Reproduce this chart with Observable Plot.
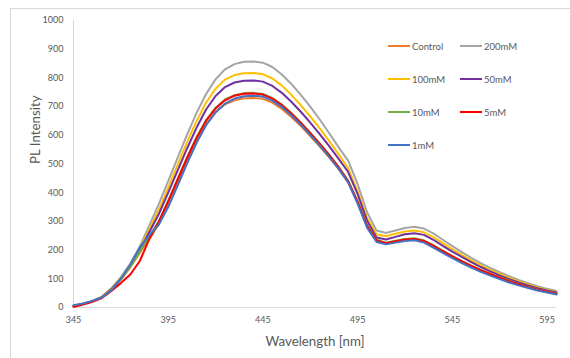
<!DOCTYPE html>
<html>
<head>
<meta charset="utf-8">
<script src="https://cdn.jsdelivr.net/npm/d3@7"></script>
<script src="https://cdn.jsdelivr.net/npm/@observablehq/plot@0.6"></script>
<style>
  html, body { margin: 0; padding: 0; background: #fff; overflow: hidden; }
  #wrap { position: relative; width: 570px; height: 358px; font-family: Lato, "Open Sans", sans-serif; }
  #border { position: absolute; left: 10px; top: 8px; width: 700px; height: 500px; border: 1px solid #d9d9d9; }
  #chart { position: absolute; left: 0; top: 0; }
  #legend { position: absolute; left: 0; top: 0; width: 570px; height: 358px; pointer-events: none; }
  .item { position: absolute; display: flex; align-items: center; font-size: 9.5px; color: #595959; }
  .item .sw { width: 22px; height: 2px; margin-right: 2px; }
</style>
</head>
<body>
<div id="wrap">
  <div id="border"></div>
  <div id="chart"></div>
  <div id="legend"></div>
</div>
<script>
const wavelengths = [345,350,355,360,365,370,375,380,385,390,395,400,405,410,415,420,425,430,435,440,445,450,455,460,465,470,475,480,485,490,495,500,505,510,515,520,525,530,535,540,545,550,555,560,565,570,575,580,585,590,595,600];

const control = [5,12,22,36,62,97,140,190,240,290,360,435,510,580,638,680,708,722,729,730,727,714,692,664,632,597,561,523,482,436,365,282,232,222,229,235,237,230,214,195,177,160,144,129,116,103,91,81,71,62,55,48];
const mM200 = [6,13,23,38,67,106,153,212,285,360,440,522,603,678,744,795,830,848,856,857,853,838,812,779,741,700,655,607,558,512,430,332,268,260,268,277,281,275,258,236,214,193,173,155,138,123,109,96,85,74,65,58];
const mM100 = [5,12,22,37,65,102,148,205,272,340,418,498,577,650,714,762,794,810,816,817,813,798,773,741,705,666,624,580,534,485,405,312,254,248,257,265,268,262,245,224,203,183,164,147,131,117,103,91,80,70,61,54];
const mM50 = [5,12,22,36,64,100,145,200,262,325,400,478,555,627,690,737,768,784,790,791,787,772,748,717,682,644,604,562,518,472,395,302,244,237,246,255,259,253,236,215,195,176,158,141,126,112,99,87,77,67,59,52];
const mM10 = [5,12,22,36,63,99,143,195,248,300,372,448,524,594,653,696,725,740,747,748,744,730,707,678,645,609,572,533,490,442,370,286,236,226,233,239,241,234,217,198,179,162,146,131,118,105,93,82,72,63,56,49];
const mM5 = [2,10,20,33,58,85,115,162,238,298,370,446,521,591,650,693,722,738,745,746,742,728,705,676,643,607,570,531,488,440,368,284,234,224,231,237,239,232,215,196,178,161,145,130,117,104,92,81,71,62,55,48];
const mM1 = [8,14,23,35,60,100,150,210,252,288,350,425,502,574,635,680,710,728,736,738,735,721,699,670,637,601,564,525,483,436,362,278,228,220,226,232,234,226,209,190,172,155,139,124,111,99,87,77,68,59,52,45];

const seriesNames = ["Control","200mM","100mM","50mM","10mM","5mM","1mM"];
const seriesValues = [control, mM200, mM100, mM50, mM10, mM5, mM1];
const seriesColors = ["#ED7D31","#A5A5A5","#FFC000","#7030A0","#70AD47","#FF0000","#4472C4"];
const xTicks = [345,395,445,495,545,595];
const yTicks = [0,100,200,300,400,500,600,700,800,900,1000];

const rows = [];
seriesNames.forEach((name, i) => {
  wavelengths.forEach((w, j) => rows.push({series: name, wl: w, value: seriesValues[i][j]}));
});

const chart = Plot.plot({
  width: 570,
  height: 358,
  marginLeft: 73,
  marginRight: 14,
  marginTop: 20,
  marginBottom: 51,
  style: {fontFamily: "Lato, 'Open Sans', sans-serif", background: "transparent"},
  x: {domain: [345, 600], ticks: xTicks, tickSize: 0, tickPadding: 9, tickFormat: d => String(d), label: null},
  y: {domain: [0, 1000], ticks: yTicks, tickSize: 0, tickPadding: 10, tickFormat: d => String(d), label: null},
  color: {domain: seriesNames, range: seriesColors},
  marks: [
    Plot.ruleY([0], {stroke: "#d9d9d9", strokeWidth: 1}),
    Plot.ruleX([345], {stroke: "#d9d9d9", strokeWidth: 1}),
    Plot.axisX({ticks: xTicks, tickSize: 0, tickPadding: 9, tickFormat: d => String(d), fontSize: 9, fill: "#595959", label: null}),
    Plot.axisY({ticks: yTicks, tickSize: 0, tickPadding: 10, tickFormat: d => String(d), fontSize: 9, fill: "#595959", label: null}),
    Plot.lineY(rows, {x: "wl", y: "value", z: "series", stroke: "series", strokeWidth: 2, strokeLinejoin: "round"}),
    Plot.text(["Wavelength [nm]"], {frameAnchor: "bottom", dy: 38, fontSize: 13.3, fill: "#595959", textAnchor: "middle"}),
    Plot.text(["PL Intensity"], {frameAnchor: "left", dx: -38, dy: 0, rotate: -90, fontSize: 13.3, fill: "#595959"})
  ]
});
document.getElementById("chart").appendChild(chart);

const legend = document.getElementById("legend");
const legendPos = [[388,46],[460,46],[388,79],[460,79],[388,112],[460,112],[388,145]];
seriesNames.forEach((name, i) => {
  const d = document.createElement("div");
  d.className = "item";
  d.style.left = legendPos[i][0] + "px";
  d.style.top = (legendPos[i][1] - 7) + "px";
  d.style.height = "14px";
  d.innerHTML = `<span class="sw" style="background:${seriesColors[i]}"></span><span>${name}</span>`;
  legend.appendChild(d);
});
</script>
</body>
</html>
